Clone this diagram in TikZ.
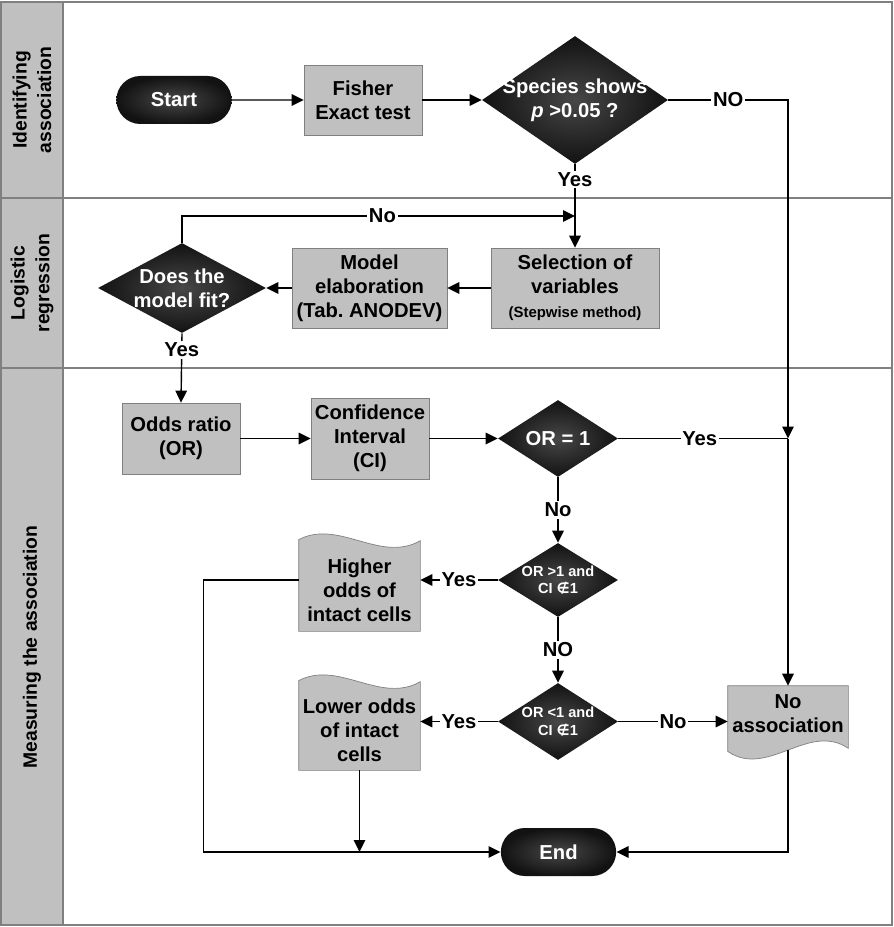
\documentclass[tikz,border=0pt]{standalone}
\usepackage{fontspec}
\setmainfont{Liberation Sans}
\newfontfamily\symfont{DejaVu Sans}
\usepackage{xcolor}
\usepackage{tikz}
\usetikzlibrary{arrows.meta, shapes.geometric, shapes.misc, calc, backgrounds}
\definecolor{boxgray}{HTML}{C0C0C0}
\definecolor{edgegray}{HTML}{808080}

\begin{document}
\begin{tikzpicture}[font=\bfseries\fontsize{11.5}{13.6}\selectfont,
		flow/.style={line width=0.8pt, -{Triangle[length=0.24cm,width=0.23cm]}},
		link/.style={line width=0.8pt},
		procbox/.style={rectangle, draw=edgegray, fill=boxgray, align=center, inner sep=1pt},
		termbox/.style={rounded rectangle, minimum width=2.54cm, minimum height=0.96cm, inner color=black!72, outer color=black!93, text=white},
		decision/.style={diamond, inner sep=0pt, inner color=black!72, outer color=black!93},
		dectext/.style={text=white, align=center},
		smalltext/.style={font=\bfseries\fontsize{8.3}{10}\selectfont},
		doctext/.style={rectangle, align=center, inner sep=0pt, minimum width=2.42cm},
		docshape/.style={draw=edgegray, fill=boxgray},
		lbl/.style={fill=white, inner sep=1pt},
		lanetext/.style={rotate=90, align=center, font=\bfseries\fontsize{11}{14}\selectfont}]
			\useasboundingbox (0,0) rectangle (17.88,-18.54);
			
			% Lanes
			\fill[boxgray] (0.02,-0.04) rectangle (1.26,-18.50);
			\draw[edgegray, line width=1pt] (0.02,-0.04) rectangle (17.84,-18.50);
			\draw[edgegray, line width=1pt] (1.26,-0.04) -- (1.26,-18.50);
			\draw[edgegray, line width=1pt] (0.02,-3.96) -- (17.84,-3.96);
			\draw[edgegray, line width=1pt] (0.02,-7.36) -- (17.84,-7.36);
			\node[lanetext] (lane1) at (0.64,-2.00) {Identifying\\association};
			\node[lanetext] (lane2) at (0.64,-5.66) {Logistic\\regression};
			\node[lanetext] (lane3) at (0.64,-12.94) {Measuring the association};
			
			% Identifying association
			\node[termbox] (start) at (3.48,-2.00) {Start};
			\node[procbox, minimum width=2.36cm, minimum height=1.40cm] (fisher) at (7.26,-2.00) {Fisher\\Exact test};
			\node[decision, minimum width=3.72cm, minimum height=2.56cm,
				label={[dectext]center:{Species shows\\\textit{p} >0.05 ?}}] (species) at (11.50,-2.00) {};
			
			% Logistic regression
			\node[procbox, minimum width=3.36cm, minimum height=1.60cm] (select) at (11.50,-5.76)
				{Selection of\\variables\\{\fontsize{8.5}{10}\selectfont(Stepwise method)}};
			\node[procbox, minimum width=3.10cm, minimum height=1.60cm] (model) at (7.39,-5.76)
				{Model\\elaboration\\(Tab.\ ANODEV)};
			\node[decision, minimum width=3.36cm, minimum height=1.80cm,
				label={[dectext]center:{Does the\\model fit?}}] (fit) at (3.64,-5.76) {};
			
			% Measuring the association
			\node[procbox, minimum width=2.36cm, minimum height=1.42cm] (odds) at (3.62,-8.77) {Odds ratio\\(OR)};
			\node[procbox, minimum width=2.36cm, minimum height=1.62cm] (ci) at (7.40,-8.77) {Confidence\\Interval\\(CI)};
			\node[decision, minimum width=2.40cm, minimum height=1.54cm,
				label={[dectext]center:{OR = 1}}] (or1) at (11.16,-8.77) {};
			\node[decision, minimum width=2.40cm, minimum height=1.48cm,
				label={[dectext, smalltext]center:{OR >1 and\\CI {\symfont ∉}1}}] (orgt) at (11.16,-11.60) {};
			\node[decision, minimum width=2.40cm, minimum height=1.54cm,
				label={[dectext, smalltext]center:{OR <1 and\\CI {\symfont ∉}1}}] (orlt) at (11.16,-14.43) {};
			\node[doctext, minimum height=1.64cm] (higher) at (7.19,-11.80) {Higher\\odds of\\intact cells};
			\node[doctext, minimum height=1.60cm] (lower) at (7.19,-14.60) {Lower odds\\of intact\\cells};
			\node[doctext, minimum width=2.40cm, minimum height=1.10cm] (noassoc) at (15.76,-14.27) {No\\association};
			\node[termbox] (end) at (11.17,-17.04) {End};
			\coordinate (yesjoin) at (15.76,-8.77);
			\coordinate (nojoin) at (11.50,-4.32);
			
			% Document shapes
			\begin{scope}[on background layer]
				\draw[docshape] (higher.south west) -- ([yshift=0.18cm]higher.north west)
					.. controls ([xshift=0.8cm,yshift=0.6cm]higher.north west) and ([xshift=-0.8cm,yshift=-0.3cm]higher.north east)
					.. ([yshift=0.16cm]higher.north east) -- (higher.south east) -- cycle;
				\draw[docshape] (lower.south west) -- ([yshift=0.18cm]lower.north west)
					.. controls ([xshift=0.8cm,yshift=0.6cm]lower.north west) and ([xshift=-0.8cm,yshift=-0.3cm]lower.north east)
					.. ([yshift=0.16cm]lower.north east) -- (lower.south east) -- cycle;
				\draw[docshape] (noassoc.north west) -- ([yshift=-0.20cm]noassoc.south west)
					.. controls ([xshift=0.8cm,yshift=-0.75cm]noassoc.south west) and ([xshift=-0.8cm,yshift=0.4cm]noassoc.south east)
					.. ([yshift=-0.14cm]noassoc.south east) -- (noassoc.north east) -- cycle;
			\end{scope}
			
			% Connectors
			\draw[flow] (start) -- (fisher);
			\draw[flow] (fisher) -- (species);
			\draw[flow] (species.east) -- node[lbl]{NO} (species.east -| yesjoin) -- (yesjoin);
			\draw[flow] (yesjoin) -- (noassoc.north);
			\draw[flow] (species.south) -- node[lbl, pos=0.18]{Yes} (select.north);
			\draw[flow] (fit.north) |- node[lbl, pos=0.755]{No} (nojoin);
			\draw[flow] (select) -- (model);
			\draw[flow] (model) -- (fit);
			\draw[flow] (fit.south) -- node[lbl, pos=0.24]{Yes} (odds.north);
			\draw[flow] (odds) -- (ci);
			\draw[flow] (ci) -- (or1);
			\draw[link] (or1.east) -- node[lbl, pos=0.48]{Yes} (yesjoin);
			\draw[flow] (or1.south) -- node[lbl]{No} (orgt.north);
			\draw[flow] (orgt.west) -- node[lbl]{Yes} (orgt.west -| higher.east);
			\draw[flow] (orgt.south) -- node[lbl]{NO} (orlt.north);
			\draw[flow] (orlt.west) -- node[lbl]{Yes} (orlt.west -| lower.east);
			\draw[flow] (orlt.east) -- node[lbl]{No} (orlt.east -| noassoc.west);
			\draw[flow] (orgt.west -| higher.west) -- ++(-1.90,0) |- (end.west);
			\draw[flow] (lower.south) -- (lower.south |- end.west);
			\draw[flow] ([yshift=-0.17cm]noassoc.south) |- (end.east);
			
		\end{tikzpicture}
\end{document}
